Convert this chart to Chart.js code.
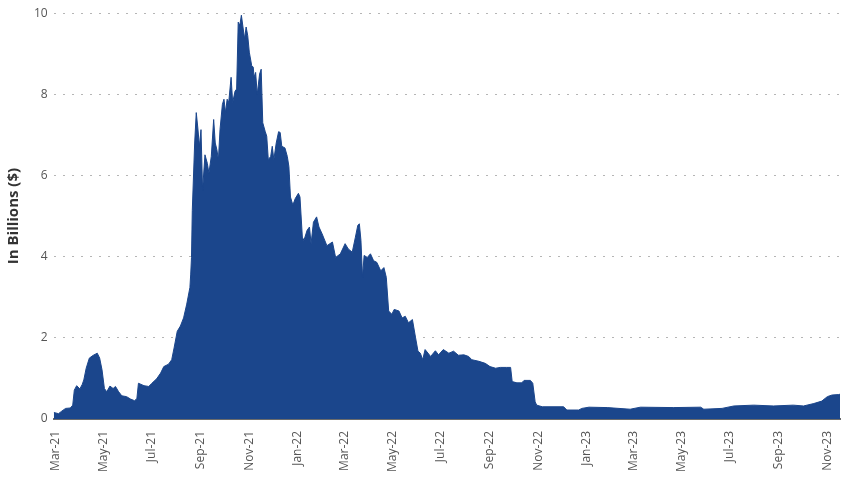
<!DOCTYPE html>
<html>
<head>
<meta charset="utf-8">
<script src="https://cdn.jsdelivr.net/npm/chart.js@4.4.0/dist/chart.umd.min.js"></script>
<style>
  html, body { margin: 0; padding: 0; background: #fff; }
  #wrap { width: 850px; height: 478px; }
</style>
</head>
<body>
<div id="wrap"><canvas id="myChart"></canvas></div>
<script>
// values, in billions of dollars
var dates = [
  '2021-02-27','2021-03-05','2021-03-09','2021-03-14','2021-03-20','2021-03-23','2021-03-25','2021-03-28',
  '2021-04-01','2021-04-04','2021-04-06','2021-04-09','2021-04-13','2021-04-18','2021-04-23','2021-04-26',
  '2021-04-29','2021-05-02','2021-05-05','2021-05-09','2021-05-13','2021-05-16','2021-05-20','2021-05-24',
  '2021-05-30','2021-06-04','2021-06-09','2021-06-12','2021-06-14','2021-06-21','2021-06-27','2021-07-01',
  '2021-07-07','2021-07-12','2021-07-16','2021-07-22','2021-07-26','2021-07-29','2021-08-02','2021-08-06',
  '2021-08-10','2021-08-14','2021-08-18','2021-08-19','2021-08-20','2021-08-21','2021-08-24','2021-08-26',
  '2021-08-28','2021-08-30','2021-09-01','2021-09-03','2021-09-06','2021-09-09','2021-09-11','2021-09-14',
  '2021-09-17','2021-09-19','2021-09-21','2021-09-23','2021-09-25','2021-09-28','2021-09-30','2021-10-02',
  '2021-10-04','2021-10-06','2021-10-09','2021-10-11','2021-10-14','2021-10-16','2021-10-18','2021-10-20',
  '2021-10-22','2021-10-24','2021-10-26','2021-10-28','2021-10-30','2021-11-01','2021-11-04','2021-11-06',
  '2021-11-07','2021-11-09','2021-11-11','2021-11-14','2021-11-16','2021-11-18','2021-11-21','2021-11-23',
  '2021-11-25','2021-11-28','2021-11-30','2021-12-02','2021-12-05','2021-12-08','2021-12-10','2021-12-12',
  '2021-12-16','2021-12-19','2021-12-21','2021-12-23','2021-12-26','2021-12-29','2022-01-02','2022-01-04',
  '2022-01-07','2022-01-09','2022-01-13','2022-01-16','2022-01-18','2022-01-21','2022-01-25','2022-01-28',
  '2022-02-01','2022-02-07','2022-02-14','2022-02-18','2022-02-24','2022-03-02','2022-03-06','2022-03-11',
  '2022-03-15','2022-03-18','2022-03-20','2022-03-22','2022-03-24','2022-03-26','2022-03-30','2022-04-03',
  '2022-04-07','2022-04-11','2022-04-16','2022-04-20','2022-04-23','2022-04-26','2022-04-30','2022-05-03',
  '2022-05-09','2022-05-13','2022-05-17','2022-05-21','2022-05-26','2022-05-30','2022-06-02','2022-06-05',
  '2022-06-08','2022-06-11','2022-06-18','2022-06-24','2022-06-28','2022-07-04','2022-07-11','2022-07-17',
  '2022-07-23','2022-07-30','2022-08-05','2022-08-09','2022-08-18','2022-08-26','2022-09-01','2022-09-08',
  '2022-09-14','2022-09-22','2022-09-27','2022-09-29','2022-10-05','2022-10-11','2022-10-14','2022-10-22',
  '2022-10-25','2022-10-28','2022-10-30','2022-11-06','2022-12-03','2022-12-07','2022-12-22','2022-12-26',
  '2023-01-04','2023-01-27','2023-02-25','2023-03-10','2023-04-21','2023-05-25','2023-05-29','2023-06-21',
  '2023-07-06','2023-07-31','2023-08-25','2023-09-19','2023-10-02','2023-10-15','2023-10-25','2023-11-01',
  '2023-11-07','2023-11-15','2023-11-17'
];
var values = [
  0.16, 0.13, 0.19, 0.26, 0.27, 0.34, 0.71, 0.82,
  0.74, 0.85, 0.96, 1.25, 1.50, 1.57, 1.62, 1.50,
  1.21, 0.75, 0.67, 0.81, 0.75, 0.80, 0.67, 0.57,
  0.55, 0.49, 0.45, 0.50, 0.88, 0.82, 0.80, 0.88,
  0.99, 1.13, 1.29, 1.35, 1.46, 1.75, 2.16, 2.29,
  2.49, 2.83, 3.24, 3.57, 3.98, 5.14, 6.80, 7.55,
  7.17, 6.72, 7.13, 5.64, 6.51, 6.30, 6.06, 6.47,
  7.38, 6.80, 6.64, 6.39, 7.13, 7.75, 7.88, 7.55,
  7.88, 7.80, 8.42, 7.80, 8.08, 8.13, 9.78, 9.70,
  9.95, 9.66, 9.37, 9.66, 9.45, 9.04, 8.71, 8.67,
  8.42, 8.54, 8.00, 8.50, 8.62, 7.30, 7.09, 6.97,
  6.39, 6.47, 6.72, 6.39, 6.80, 7.08, 7.06, 6.72,
  6.68, 6.47, 6.22, 5.47, 5.27, 5.43, 5.56, 5.47,
  4.48, 4.40, 4.65, 4.73, 4.32, 4.85, 4.98, 4.73,
  4.56, 4.27, 4.36, 3.98, 4.07, 4.32, 4.19, 4.11,
  4.48, 4.77, 4.81, 4.40, 3.49, 4.03, 3.98, 4.07,
  3.90, 3.86, 3.65, 3.73, 3.49, 2.66, 2.58, 2.70,
  2.66, 2.49, 2.53, 2.37, 2.45, 2.00, 1.67, 1.62,
  1.46, 1.71, 1.54, 1.68, 1.58, 1.71, 1.62, 1.67,
  1.57, 1.58, 1.54, 1.46, 1.42, 1.37, 1.29, 1.25,
  1.27, 1.27, 1.27, 0.92, 0.89, 0.89, 0.95, 0.95,
  0.88, 0.42, 0.34, 0.30, 0.30, 0.22, 0.22, 0.26,
  0.29, 0.28, 0.24, 0.29, 0.28, 0.29, 0.24, 0.26,
  0.32, 0.34, 0.32, 0.34, 0.32, 0.38, 0.44, 0.55,
  0.59, 0.60, 0.61
];
var tickDates = [
  '2021-03-01','2021-05-01','2021-07-01','2021-09-01','2021-11-01','2022-01-01',
  '2022-03-01','2022-05-01','2022-07-01','2022-09-01','2022-11-01','2023-01-01',
  '2023-03-01','2023-05-01','2023-07-01','2023-09-01','2023-11-01'
];
var tickLabels = [
  'Mar-21','May-21','Jul-21','Sep-21','Nov-21','Jan-22',
  'Mar-22','May-22','Jul-22','Sep-22','Nov-22','Jan-23',
  'Mar-23','May-23','Jul-23','Sep-23','Nov-23'
];

window.addEventListener('load', function(){

    // day number counted from 1 March 2021
    function dia(s){
        var p = s.split('-');
        return (Date.UTC(+p[0], +p[1] - 1, +p[2]) - Date.UTC(2021, 2, 1)) / 86400000;
    }

    var puntos = [];
    dates.forEach((d, i) => {
        puntos.push({x: dia(d), y: values[i]});
    });

    var ticksX = tickDates.map(dia);

    var ctx = document.getElementById('myChart').getContext('2d');
    var chart = new Chart(ctx, {
        type: 'line',
        data: {
            datasets: [{
                data: puntos,
                backgroundColor: '#1b468c',
                borderColor: '#1b468c',
                borderWidth: 1,
                pointRadius: 0,
                fill: 'origin',
                tension: 0
            }]
        },
        options: {
            responsive: true,
            maintainAspectRatio: false,
            animation: false,
            layout: { padding: { left: 5, right: 10, top: 10, bottom: 2 } },
            plugins: {
                legend: { display: false },
                tooltip: { enabled: false }
            },
            scales: {
                x: {
                    type: 'linear',
                    min: dia(dates[0]),
                    max: dia(dates[dates.length - 1]),
                    z: 1,
                    afterBuildTicks: function(axis){
                        axis.ticks = ticksX.map(v => ({value: v}));
                    },
                    ticks: {
                        autoSkip: false,
                        minRotation: 90,
                        maxRotation: 90,
                        padding: 4,
                        color: '#555',
                        font: { family: 'Open Sans', size: 12 },
                        callback: function(v){
                            var i = ticksX.indexOf(v);
                            return i >= 0 ? tickLabels[i] : '';
                        }
                    },
                    grid: { display: false },
                    border: { display: true, color: '#6b6b6b', width: 2 }
                },
                y: {
                    min: 0,
                    max: 10,
                    ticks: {
                        stepSize: 2,
                        padding: 6,
                        color: '#555',
                        font: { family: 'Open Sans', size: 12 }
                    },
                    title: {
                        display: true,
                        text: 'In Billions ($)',
                        color: '#333',
                        font: { family: 'Open Sans', size: 15, weight: 'bold' },
                        padding: { top: 0, bottom: 5 }
                    },
                    grid: {
                        color: '#b5b5b5',
                        lineWidth: 1,
                        drawTicks: false
                    },
                    border: { display: false, dash: [2, 7] }
                }
            }
        }
    });
});
</script>
</body>
</html>
